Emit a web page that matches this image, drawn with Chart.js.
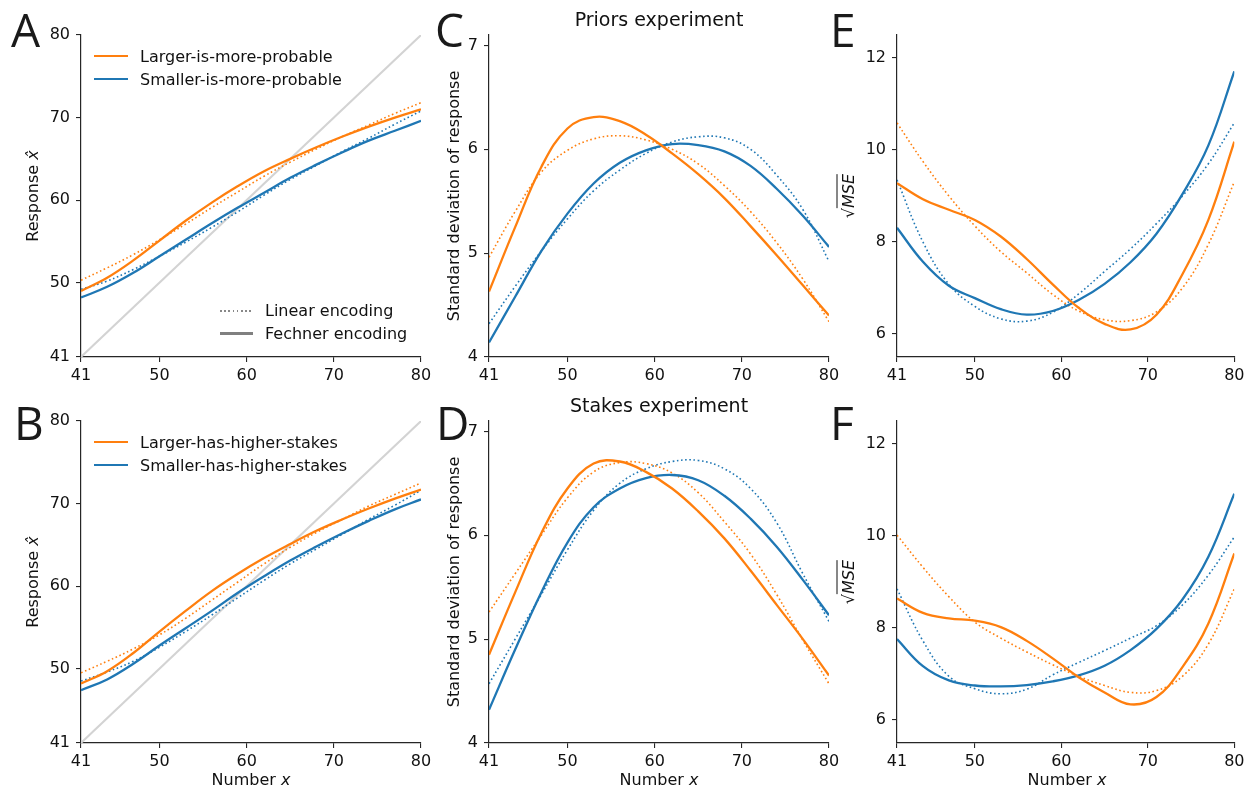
<!DOCTYPE html>
<html>
<head>
<meta charset="utf-8">
<script src="https://cdn.jsdelivr.net/npm/chart.js@4.4.1/dist/chart.umd.min.js"></script>
<style>
  body { margin: 0; background: #fff; width: 1249px; height: 790px; position: relative; overflow: hidden;
         font-family: "DejaVu Sans", sans-serif; color: #111; }
  canvas { position: absolute; }
  .t { position: absolute; white-space: nowrap; font-size: 16px; line-height: normal; transform: translate(0, -50%); }
  .c { transform: translate(-50%, -50%); }
  .v { transform: translate(-50%, -50%) rotate(-90deg); }
  .big { font-family: "Open Sans", sans-serif; font-size: 46px; color: #1a1a1a; }
  .ttl { font-size: 19px; }
  .hl { position: absolute; height: 2.3px; }
  .dot { position: absolute; height: 1.6px;
         background: repeating-linear-gradient(to right, #888 0 1.6px, transparent 1.6px 4.2px); }
  .rad { border-top: 1px solid #111; font-style: italic; padding-top: 1px; }
</style>
</head>
<body>

<canvas id="pA" width="440" height="390" style="left:0;top:0"></canvas>
<canvas id="pB" width="440" height="400" style="left:0;top:390px"></canvas>
<canvas id="pC" width="405" height="390" style="left:440px;top:0"></canvas>
<canvas id="pD" width="405" height="400" style="left:440px;top:390px"></canvas>
<canvas id="pE" width="404" height="390" style="left:845px;top:0"></canvas>
<canvas id="pF" width="404" height="400" style="left:845px;top:390px"></canvas>

<!-- panel letters -->
<div class="t big" style="left:11px;top:29px">A</div>
<div class="t big" style="left:14px;top:422px">B</div>
<div class="t big" style="left:435px;top:29px">C</div>
<div class="t big" style="left:436px;top:422px">D</div>
<div class="t big" style="left:830px;top:29px">E</div>
<div class="t big" style="left:830px;top:422px">F</div>

<!-- titles -->
<div class="t c ttl" style="left:659px;top:19px">Priors experiment</div>
<div class="t c ttl" style="left:659px;top:405px">Stakes experiment</div>

<!-- axis titles -->
<div class="t v" style="left:32px;top:196px">Response <i>x&#770;</i></div>
<div class="t v" style="left:32px;top:582px">Response <i>x&#770;</i></div>
<div class="t v" style="left:453px;top:196px">Standard deviation of response</div>
<div class="t v" style="left:453px;top:582px">Standard deviation of response</div>
<div class="t v" style="left:848px;top:196px">&radic;<span class="rad">MSE</span></div>
<div class="t v" style="left:848px;top:582px">&radic;<span class="rad">MSE</span></div>
<div class="t c" style="left:251px;top:779px">Number <i>x</i></div>
<div class="t c" style="left:659px;top:779px">Number <i>x</i></div>
<div class="t c" style="left:1067px;top:779px">Number <i>x</i></div>

<!-- legends -->
<div class="hl" style="left:94px;top:55px;width:34px;background:#ff7f0e"></div>
<div class="t" style="left:140px;top:56px">Larger-is-more-probable</div>
<div class="hl" style="left:94px;top:78px;width:34px;background:#1f77b4"></div>
<div class="t" style="left:140px;top:79px">Smaller-is-more-probable</div>
<div class="dot" style="left:220px;top:310px;width:33px"></div>
<div class="t" style="left:265px;top:310px">Linear encoding</div>
<div class="hl" style="left:220px;top:332px;width:33px;background:#808080;height:2.6px"></div>
<div class="t" style="left:265px;top:333px">Fechner encoding</div>
<div class="hl" style="left:94px;top:441px;width:34px;background:#ff7f0e"></div>
<div class="t" style="left:140px;top:442px">Larger-has-higher-stakes</div>
<div class="hl" style="left:94px;top:464px;width:34px;background:#1f77b4"></div>
<div class="t" style="left:140px;top:465px">Smaller-has-higher-stakes</div>

<script>
// numbers shown on the x axis of every panel
const xs = [41, 44, 47, 50, 53, 56, 59, 62, 65, 68, 71, 74, 77, 80];
const xTicks = [41, 50, 60, 70, 80];
const respTicks = [41, 50, 60, 70, 80];
const sdTicks = [4, 5, 6, 7];
const mseTicks = [6, 8, 10, 12];
const identity = [41, 80];

// A: mean response, priors experiment
const aLargerFech  = [49.0, 50.6, 52.7, 55.1, 57.5, 59.7, 61.7, 63.5, 65.0, 66.4, 67.7, 68.9, 70.0, 71.0];
const aLargerLin   = [50.3, 51.8, 53.4, 55.2, 57.1, 59.1, 61.0, 62.9, 64.6, 66.2, 67.7, 69.1, 70.5, 71.8];
const aSmallerFech = [48.2, 49.5, 51.2, 53.2, 55.2, 57.2, 59.1, 60.9, 62.7, 64.3, 65.8, 67.2, 68.4, 69.6];
const aSmallerLin  = [49.2, 50.2, 51.6, 53.2, 54.9, 56.7, 58.6, 60.6, 62.5, 64.2, 65.9, 67.5, 69.2, 70.8];

// B: mean response, stakes experiment
const bLargerFech  = [48.2, 49.7, 51.9, 54.5, 57.0, 59.4, 61.5, 63.4, 65.1, 66.7, 68.1, 69.4, 70.6, 71.7];
const bLargerLin   = [49.5, 50.9, 52.4, 54.1, 56.1, 58.3, 60.5, 62.7, 64.7, 66.5, 68.1, 69.7, 71.1, 72.5];
const bSmallerFech = [47.4, 48.7, 50.6, 52.8, 54.9, 57.0, 59.2, 61.2, 63.1, 64.8, 66.4, 67.9, 69.3, 70.5];
const bSmallerLin  = [48.5, 49.6, 50.9, 52.6, 54.5, 56.5, 58.6, 60.7, 62.7, 64.5, 66.3, 68.1, 69.8, 71.6];

// C: sd of response, priors
const cLargerFech  = [4.63, 5.25, 5.83, 6.20, 6.31, 6.27, 6.14, 5.96, 5.76, 5.53, 5.26, 4.98, 4.69, 4.40];
const cLargerLin   = [4.96, 5.40, 5.78, 5.99, 6.10, 6.13, 6.09, 6.00, 5.86, 5.65, 5.40, 5.10, 4.75, 4.34];
const cSmallerFech = [4.14, 4.58, 5.02, 5.38, 5.67, 5.87, 5.99, 6.05, 6.04, 5.98, 5.84, 5.62, 5.36, 5.06];
const cSmallerLin  = [4.32, 4.68, 5.02, 5.33, 5.60, 5.80, 5.96, 6.07, 6.12, 6.11, 6.00, 5.75, 5.42, 4.92];

// D: sd of response, stakes
const dLargerFech  = [4.85, 5.45, 6.02, 6.45, 6.69, 6.71, 6.61, 6.45, 6.23, 5.97, 5.66, 5.33, 5.00, 4.65];
const dLargerLin   = [5.26, 5.63, 6.00, 6.36, 6.61, 6.70, 6.69, 6.60, 6.41, 6.13, 5.82, 5.43, 4.99, 4.57];
const dSmallerFech = [4.32, 4.90, 5.45, 5.93, 6.27, 6.45, 6.55, 6.58, 6.53, 6.38, 6.16, 5.89, 5.57, 5.23];
const dSmallerLin  = [4.57, 5.00, 5.43, 5.86, 6.24, 6.50, 6.64, 6.71, 6.72, 6.64, 6.45, 6.12, 5.63, 5.17];

// E: sqrt(MSE), priors
const eLargerFech  = [9.28, 8.93, 8.70, 8.48, 8.12, 7.63, 7.08, 6.57, 6.22, 6.10, 6.42, 7.30, 8.48, 10.18];
const eLargerLin   = [10.59, 9.75, 9.00, 8.35, 7.79, 7.33, 6.86, 6.50, 6.31, 6.29, 6.48, 7.00, 7.95, 9.31];
const eSmallerFech = [8.31, 7.57, 7.05, 6.78, 6.54, 6.42, 6.50, 6.74, 7.09, 7.56, 8.18, 9.04, 10.10, 11.71];
const eSmallerLin  = [9.35, 8.00, 7.08, 6.60, 6.33, 6.28, 6.47, 6.87, 7.36, 7.85, 8.40, 9.00, 9.70, 10.59];

// F: sqrt(MSE), stakes
const fLargerFech  = [8.64, 8.33, 8.21, 8.16, 8.02, 7.72, 7.34, 6.93, 6.60, 6.34, 6.50, 7.15, 8.10, 9.62];
const fLargerLin   = [10.02, 9.32, 8.68, 8.13, 7.78, 7.48, 7.20, 6.95, 6.75, 6.60, 6.64, 6.95, 7.65, 8.85];
const fSmallerFech = [7.76, 7.17, 6.86, 6.75, 6.73, 6.76, 6.84, 6.97, 7.18, 7.52, 7.98, 8.62, 9.55, 10.92];
const fSmallerLin  = [8.85, 7.72, 6.95, 6.68, 6.57, 6.67, 6.98, 7.25, 7.51, 7.78, 8.05, 8.50, 9.15, 9.98];

const ORANGE = '#ff7f0e';
const BLUE = '#1f77b4';
const AXIS = '#262626';

Chart.defaults.font.family = 'DejaVu Sans';
Chart.defaults.font.size = 16;

function pts(ys) {
  return ys.map((y, i) => ({ x: xs[i], y: y }));
}

function curve(ys, color, dotted) {
  return {
    data: pts(ys),
    borderColor: color,
    borderWidth: dotted ? 1.6 : 2.3,
    borderDash: dotted ? [1.6, 2.6] : [],
    pointRadius: 0,
    tension: 0.4,
    fill: false,
    order: dotted ? 1 : 0
  };
}

function axis(min, max, ticks, fit) {
  return {
    type: 'linear',
    min: min,
    max: max,
    afterBuildTicks: s => { s.ticks = ticks.map(v => ({ value: v })); },
    afterFit: fit,
    grid: { drawOnChartArea: false, drawTicks: true, tickLength: 5, color: AXIS, lineWidth: 1.1 },
    border: { display: true, color: AXIS, width: 1.2 },
    ticks: { color: '#111', autoSkip: false, maxRotation: 0 }
  };
}

function panel(id, series, yMin, yMax, yTicks, withIdentity, yWidth, xHeight, padTop, padRight) {
  const datasets = [
    curve(series[0], ORANGE, false),
    curve(series[1], BLUE, false),
    curve(series[2], ORANGE, true),
    curve(series[3], BLUE, true)
  ];
  if (withIdentity) {
    datasets.push({
      data: identity.map(v => ({ x: v, y: v })),
      borderColor: '#d3d3d3',
      borderWidth: 2,
      pointRadius: 0,
      order: 5
    });
  }
  const xAx = axis(41, 80, xTicks, s => { s.height = xHeight; });
  xAx.ticks.padding = 4.5;
  const yAx = axis(yMin, yMax, yTicks, s => { s.width = yWidth; });
  yAx.ticks.padding = 6;

  new Chart(document.getElementById(id), {
    type: 'line',
    data: { datasets: datasets },
    options: {
      responsive: false,
      animation: false,
      devicePixelRatio: 1,
      layout: { padding: { left: 0, top: padTop, right: padRight, bottom: 0 } },
      plugins: { legend: { display: false }, tooltip: { enabled: false } },
      scales: { x: xAx, y: yAx }
    }
  });
}

panel('pA', [aLargerFech, aSmallerFech, aLargerLin, aSmallerLin], 41, 80, respTicks, true, 81, 33, 35, 19);
panel('pB', [bLargerFech, bSmallerFech, bLargerLin, bSmallerLin], 41, 80, respTicks, true, 81, 47, 31, 19);
panel('pC', [cLargerFech, cSmallerFech, cLargerLin, cSmallerLin], 4, 7.1, sdTicks, false, 49, 33, 35, 16);
panel('pD', [dLargerFech, dSmallerFech, dLargerLin, dSmallerLin], 4, 7.1, sdTicks, false, 49, 47, 31, 16);
panel('pE', [eLargerFech, eSmallerFech, eLargerLin, eSmallerLin], 5.5, 12.5, mseTicks, false, 52, 33, 35, 12);
panel('pF', [fLargerFech, fSmallerFech, fLargerLin, fSmallerLin], 5.5, 12.5, mseTicks, false, 52, 47, 31, 12);
</script>
</body>
</html>
